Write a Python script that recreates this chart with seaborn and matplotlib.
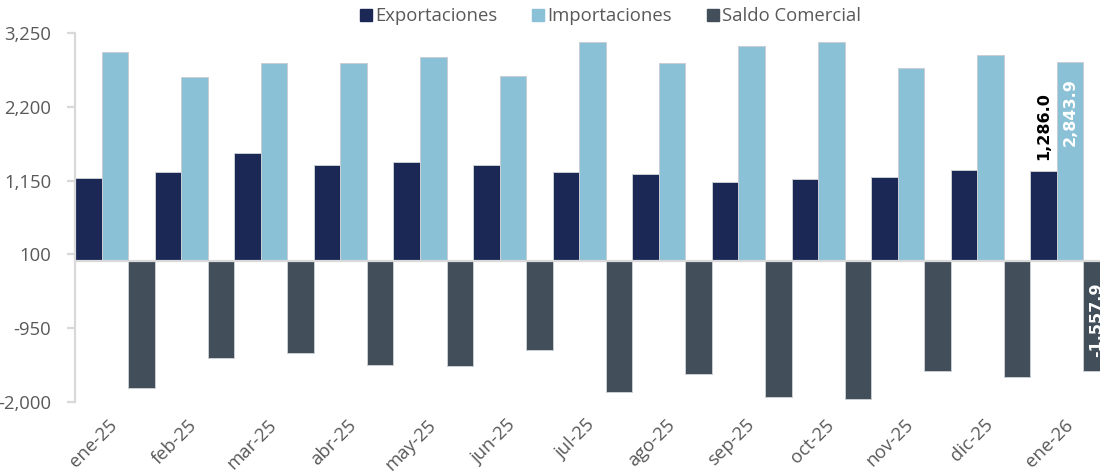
import numpy as np
import pandas as pd
import seaborn as sns
import matplotlib.pyplot as plt
from matplotlib.ticker import FuncFormatter
from matplotlib.lines import Line2D

# Datos (millones USD)
meses = ['ene-25', 'feb-25', 'mar-25', 'abr-25', 'may-25', 'jun-25', 'jul-25',
         'ago-25', 'sep-25', 'oct-25', 'nov-25', 'dic-25', 'ene-26']
exportaciones = [1192, 1273, 1545, 1374, 1417, 1378, 1278, 1245, 1136, 1178, 1207, 1306, 1286.0]
importaciones = [2978, 2630, 2830, 2830, 2907, 2635, 3126, 2830, 3063, 3126, 2749, 2935, 2843.9]
saldo = [-1795, -1367, -1301, -1467, -1491, -1267, -1852, -1595, -1929, -1952, -1558, -1638, -1557.9]

series = ['Exportaciones', 'Importaciones', 'Saldo Comercial']
colores = ['#1B2755', '#8AC1D6', '#424F5A']

df = pd.DataFrame({'mes': meses * 3,
                   'serie': np.repeat(series, len(meses)),
                   'valor': exportaciones + importaciones + saldo})

sns.set_style('white')
plt.rcParams['font.family'] = ['Open Sans', 'DejaVu Sans']

fig = plt.figure(figsize=(11, 4.75), dpi=100)
ax = fig.add_axes([75 / 1100, 1 - 402 / 475, 1035 / 1100, 369 / 475])

sns.barplot(data=df, x='mes', y='valor', hue='serie', order=meses, hue_order=series,
            palette=colores, width=1.0, edgecolor='#C9CED3', linewidth=0.7,
            saturation=1, ax=ax, legend=False)

ax.axhline(0, color='#D9D9D9', lw=1.6, zorder=3)
ax.set_ylim(-2000, 3250)
ax.set_xlim(-0.5, len(meses) - 0.5)
ax.set_yticks(np.arange(-2000, 3251, 1050))
ax.yaxis.set_major_formatter(FuncFormatter(lambda v, p: f'{v:,.0f}'))
ax.set_xlabel('')
ax.set_ylabel('')

for s in ['top', 'right', 'bottom']:
    ax.spines[s].set_visible(False)
ax.spines['left'].set_color('#D9D9D9')
ax.spines['left'].set_linewidth(1.6)
ax.tick_params(axis='y', left=True, length=6, width=1.6, color='#D9D9D9',
               labelsize=13.3, labelcolor='#595959', pad=11)
ax.tick_params(axis='x', bottom=False, labelsize=13.3, labelcolor='#595959', pad=11)
plt.setp(ax.get_xticklabels(), rotation=45, ha='right', va='center', rotation_mode='anchor')

# Etiquetas del último mes
i = len(meses) - 1
w = 1 / 3
lab = dict(rotation=90, ha='center', fontsize=11.5, fontweight='bold',
           family='DejaVu Sans', textcoords='offset points')
ax.annotate(f'{exportaciones[i]:,.1f}', (i - w, exportaciones[i]), xytext=(0, 8),
            va='bottom', color='black', **lab)
ax.annotate(f'{importaciones[i]:,.1f}', (i, importaciones[i]), xytext=(0, -12),
            va='top', color='white', **lab)
ax.annotate(f'{saldo[i]:,.1f}', (i + w, 0), xytext=(0, -15),
            va='top', color='white', annotation_clip=False, **lab)

handles = [Line2D([], [], marker='s', ls='', markersize=9, color=c) for c in colores]
fig.legend(handles, series, loc='upper center', bbox_to_anchor=(610 / 1100, 1.02),
           ncol=3, frameon=False, fontsize=13.3, labelcolor='#595959',
           handletextpad=0.1, columnspacing=1.8, handlelength=0.8)

fig.savefig('out.png', dpi=100)
